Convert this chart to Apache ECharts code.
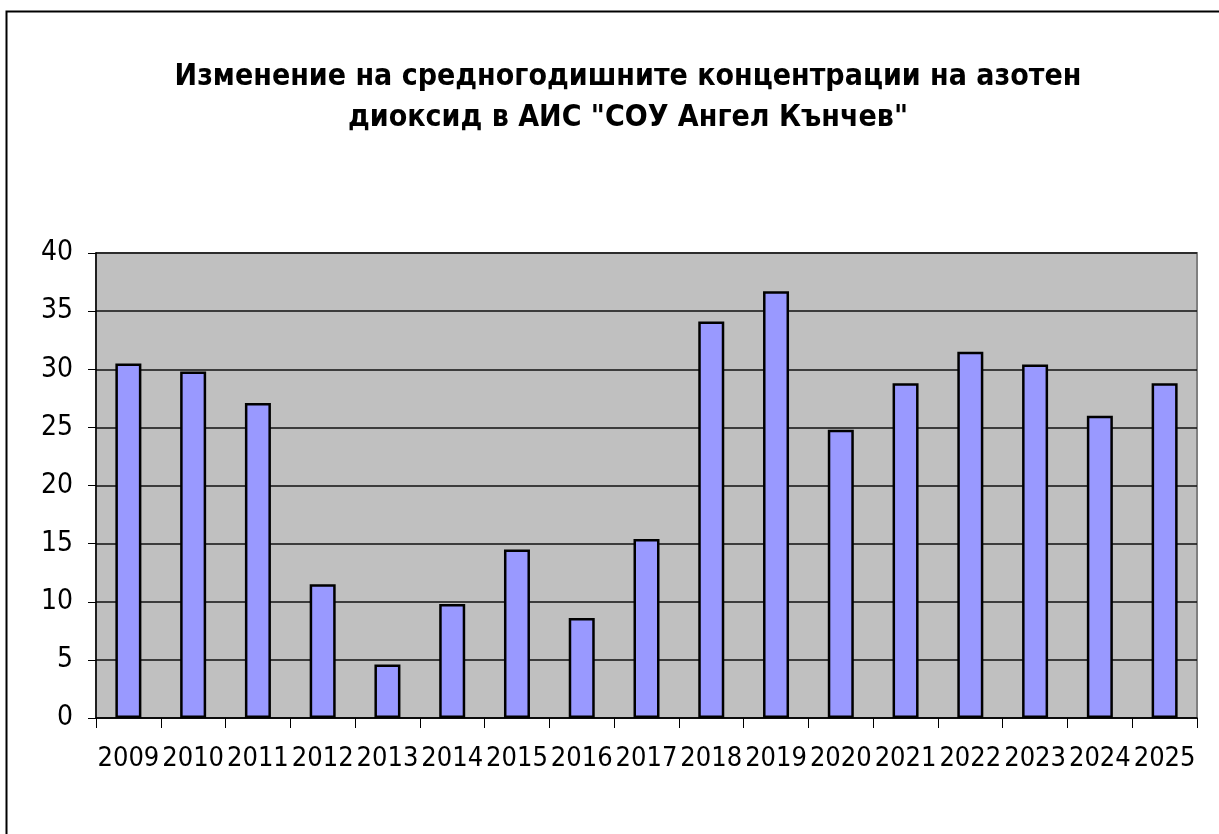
<!DOCTYPE html>
<html>
<head>
<meta charset="utf-8">
<title>NO2</title>
<script src="https://cdn.jsdelivr.net/npm/echarts@6/dist/echarts.min.js"></script>
<style>
  html, body { margin: 0; padding: 0; background: #fff; }
  #chart { width: 1219px; height: 834px; }
</style>
</head>
<body>
<div id="chart"></div>
<script>
// годишни средни стойности NO2
var years = ['2009', '2010', '2011', '2012', '2013', '2014', '2015', '2016', '2017',
             '2018', '2019', '2020', '2021', '2022', '2023', '2024', '2025'];
var no2Values = [30.5, 29.8, 27.1, 11.5, 4.6, 9.8, 14.5, 8.6, 15.4,
                 34.1, 36.7, 24.8, 28.8, 31.5, 30.4, 26.0, 28.8];
var titleText = 'Изменение на средногодишните концентрации на азотен\nдиоксид в АИС "СОУ Ангел Кънчев"';

var font = '"Liberation Sans Narrow", "Arial Narrow", "DejaVu Sans Condensed", sans-serif';

var chart = echarts.init(document.getElementById('chart'));
chart.setOption({
  backgroundColor: '#fff',
  animation: false,
  title: {
    text: titleText,
    left: 623,
    textAlign: 'center',
    top: 52,
    textStyle: {
      fontFamily: font,
      fontWeight: 'bold',
      fontSize: 30,
      lineHeight: 41,
      color: '#000'
    }
  },
  graphic: [{
    type: 'rect',
    shape: { x: 6.5, y: 11.5, width: 1400, height: 1000 },
    style: { fill: 'none', stroke: '#000', lineWidth: 2 }
  }],
  grid: {
    left: 96,
    right: 22,
    top: 253,
    bottom: 116,
    show: true,
    backgroundColor: '#c0c0c0',
    borderColor: '#808080',
    borderWidth: 2
  },
  xAxis: {
    type: 'category',
    data: years,
    axisLine: { lineStyle: { color: '#000', width: 1.5 } },
    axisTick: { show: true, interval: 0, length: 10, lineStyle: { color: '#000' } },
    axisLabel: {
      interval: 0,
      margin: 27,
      fontFamily: font,
      fontSize: 27,
      color: '#000'
    }
  },
  yAxis: {
    type: 'value',
    min: 0,
    max: 40,
    interval: 5,
    axisLine: { show: true, lineStyle: { color: '#000', width: 1.5 } },
    axisTick: { show: true, length: 8, lineStyle: { color: '#000' } },
    splitLine: { lineStyle: { color: '#111', width: 1.5 } },
    axisLabel: {
      margin: 23,
      fontFamily: font,
      fontSize: 28,
      color: '#000'
    }
  },
  series: [{
    type: 'bar',
    data: no2Values,
    barWidth: 26,
    itemStyle: {
      color: '#9999ff',
      borderColor: '#000',
      borderWidth: 2.5
    }
  }]
});
</script>
</body>
</html>
